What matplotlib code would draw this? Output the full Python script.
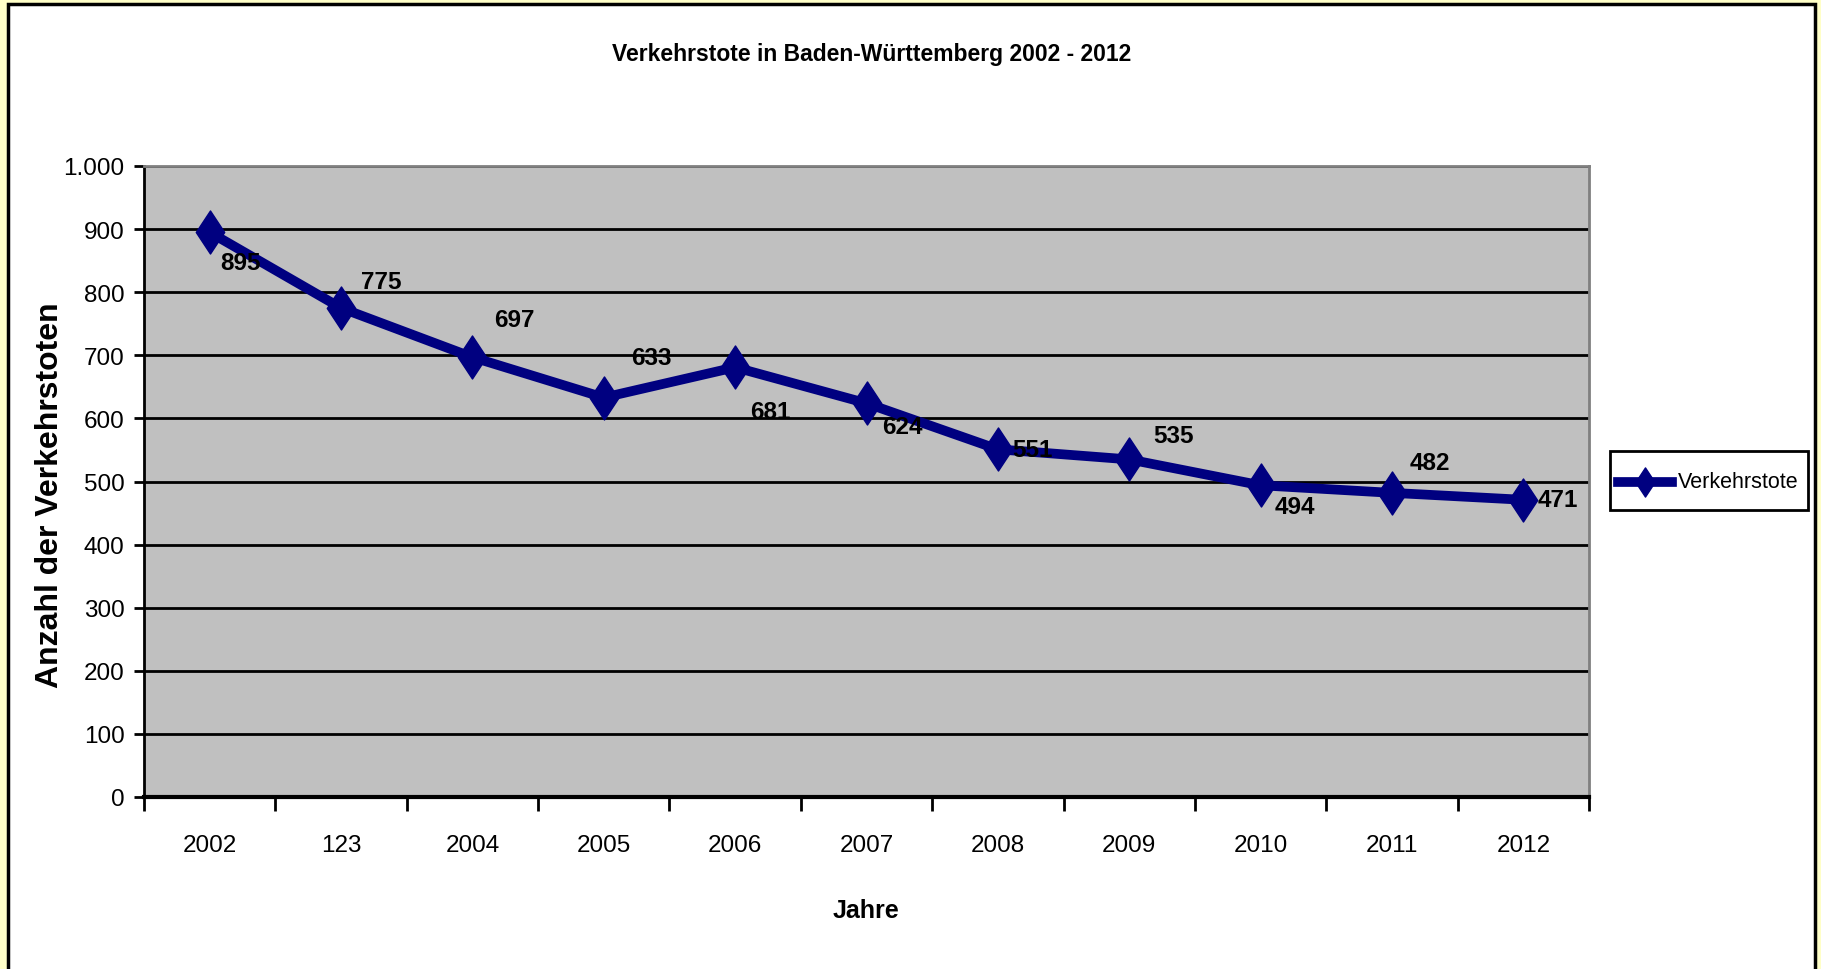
import matplotlib
matplotlib.use("Agg")
import matplotlib.pyplot as plt
from matplotlib import font_manager
from matplotlib.patches import Rectangle
from matplotlib.path import Path
from matplotlib.lines import Line2D

# ---- data ----
categories = ["2002", "123", "2004", "2005", "2006", "2007", "2008", "2009", "2010", "2011", "2012"]
values = [895, 775, 697, 633, 681, 624, 551, 535, 494, 482, 471]
yticks = [0, 100, 200, 300, 400, 500, 600, 700, 800, 900, 1000]
ytick_labels = ["0", "100", "200", "300", "400", "500", "600", "700", "800", "900", "1.000"]
series_name = "Verkehrstote"
title = "Verkehrstote in Baden-Württemberg 2002 - 2012"
xlabel = "Jahre"
ylabel = "Anzahl der Verkehrstoten"

# label offsets in points (styling)
label_offsets = [(22, -22), (29, 19), (30, 27), (34, 29), (25, -32), (26, -17),
                 (25, 0), (32, 17), (25, -15), (27, 22), (25, 0)]

avail = {f.name for f in font_manager.fontManager.ttflist}
narrow = "Liberation Sans Narrow" if "Liberation Sans Narrow" in avail else (
    "Liberation Sans" if "Liberation Sans" in avail else "DejaVu Sans")
wide = "Liberation Sans" if "Liberation Sans" in avail else "DejaVu Sans"

W, H = 1821, 970
fig = plt.figure(figsize=(W / 100, H / 100), dpi=100)
fig.patch.set_facecolor("#FFFFC8")

# outer chart frame
fig.patches.append(Rectangle((8 / W, -0.05), (1815 - 8) / W, 1.05 - 5 / H,
                             transform=fig.transFigure, facecolor="white",
                             edgecolor="black", linewidth=2.5, zorder=-10))

ax = fig.add_axes([144 / W, 1 - 798 / H, (1589 - 144) / W, (798 - 167) / H])
ax.set_zorder(2)
ax.set_facecolor("#C0C0C0")

x = list(range(len(categories)))
diamond = Path([(0, 1), (0.66, 0), (0, -1), (-0.66, 0), (0, 1)],
               [Path.MOVETO, Path.LINETO, Path.LINETO, Path.LINETO, Path.CLOSEPOLY])
ax.plot(x, values, color="#000080", linewidth=7, marker=diamond, markersize=31,
        markerfacecolor="#000080", markeredgecolor="#000080", zorder=3,
        solid_joinstyle="miter", label=series_name)

for xi, v, (dx, dy) in zip(x, values, label_offsets):
    ax.annotate(str(v), (xi, v), xytext=(dx, dy), textcoords="offset points",
                ha="center", va="center", fontsize=17.5, fontweight="bold",
                family=narrow, color="black", zorder=4)

ax.set_xlim(-0.5, len(categories) - 0.5)
ax.set_ylim(0, 1000)
ax.set_yticks(yticks)
ax.set_yticklabels(ytick_labels, family=narrow, fontsize=17.5)
ax.yaxis.grid(True, color="black", linewidth=2)
ax.set_axisbelow(True)

ax.set_xticks(x)
ax.set_xticklabels(categories, family=narrow, fontsize=17.5)
ax.set_xticks([i - 0.5 for i in range(len(categories) + 1)], minor=True)
ax.tick_params(axis="x", which="major", length=0, pad=27)
ax.tick_params(axis="x", which="minor", length=10, width=2, color="black")
ax.tick_params(axis="y", length=7, width=2, pad=7)

for s in ["top", "right"]:
    ax.spines[s].set_color("#808080")
    ax.spines[s].set_linewidth(2)
ax.spines["left"].set_linewidth(2)
ax.spines["bottom"].set_linewidth(3)

fig.text(872 / W, 1 - 55 / H, title, ha="center", va="center", fontsize=16.5,
         fontweight="bold", family=narrow)
fig.text(866 / W, 1 - 911 / H, xlabel, ha="center", va="center", fontsize=18,
         fontweight="bold", family=narrow)
fig.text(50 / W, 1 - 495 / H, ylabel, ha="center", va="center", fontsize=23,
         fontweight="bold", family=wide, rotation=90)

# legend (drawn manually to match box geometry)
fig.patches.append(Rectangle((1610 / W, 1 - 511 / H), (1808 - 1610) / W, (511 - 452) / H,
                             transform=fig.transFigure, facecolor="white",
                             edgecolor="black", linewidth=2, zorder=5))
fig.lines.append(Line2D([1618 / W, 1672 / W], [1 - 483 / H, 1 - 483 / H],
                        transform=fig.transFigure, color="#000080", linewidth=7,
                        marker=None, zorder=6))
fig.lines.append(Line2D([1645 / W], [1 - 483 / H], transform=fig.transFigure,
                        color="#000080", marker=diamond, markersize=21,
                        markerfacecolor="#000080", markeredgecolor="#000080", zorder=6))
fig.text(1678 / W, 1 - 483 / H, series_name, ha="left", va="center", fontsize=15.5,
         family=narrow, zorder=7)

fig.savefig("out.png", dpi=100, facecolor=fig.get_facecolor())
